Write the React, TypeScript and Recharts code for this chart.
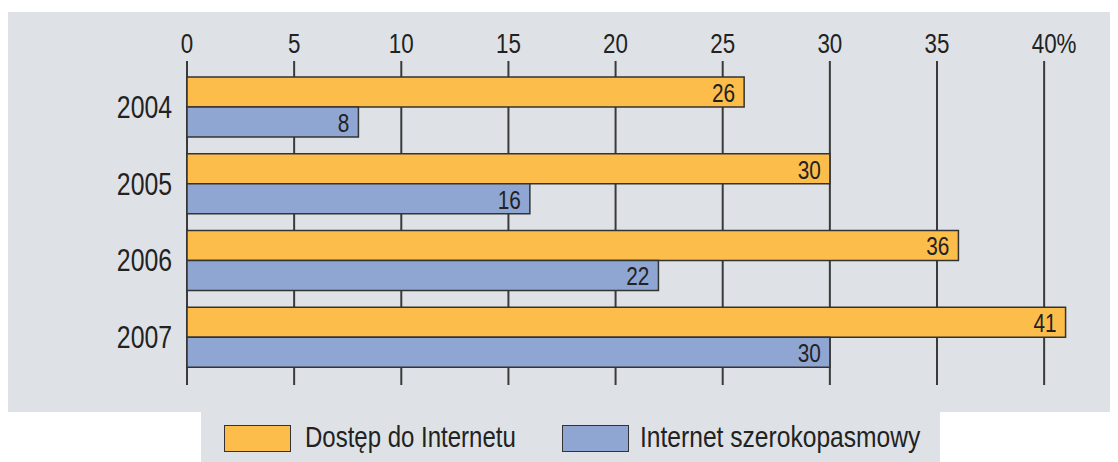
import { Bar, BarChart, CartesianGrid, LabelList, Legend, XAxis, YAxis } from "recharts";

const years = ["2004", "2005", "2006", "2007"];
const access = [26, 30, 36, 41];
const broadband = [8, 16, 22, 30];
const xTicks = [0, 5, 10, 15, 20, 25, 30, 35, 40];

const seriesNames = ["Dostęp do Internetu", "Internet szerokopasmowy"];
const colors = ["#fdbd4b", "#90a6d2"];

const data = years.map((year, i) => ({ year, access: access[i], broadband: broadband[i] }));

// no narrow font installed, so Liberation Sans gets squeezed horizontally
const FONT = "'Liberation Sans', Arial, sans-serif";
const SQUEEZE = 0.8;
const BG = "#dee2e6";
const INK = "#222";

const TopTick = (props: any) => {
    const { x, y, payload } = props;
    const v = payload.value;
    // the number stays centred on its line, the % sign on the last tick hangs to the right
    return (
        <g transform={`translate(${x},${y}) scale(${SQUEEZE},1)`}>
            <text textAnchor="middle" fill={INK} fontSize={28}>
                {String(v)}
            </text>
            {v === xTicks[xTicks.length - 1] && (
                <text x={15.6} textAnchor="start" fill={INK} fontSize={28}>
                    %
                </text>
            )}
        </g>
    );
};

const YearTick = (props: any) => {
    const { x, y, payload } = props;
    return (
        <text
            transform={`translate(${x},${y}) scale(${SQUEEZE},1)`}
            textAnchor="end"
            dominantBaseline="central"
            fill={INK}
            fontSize={31}
        >
            {payload.value}
        </text>
    );
};

const BarValue = (props: any) => {
    const { x, y, width, height, value } = props;
    return (
        <text
            transform={`translate(${x + width - 9},${y + height / 2 + 1}) scale(${SQUEEZE},1)`}
            textAnchor="end"
            dominantBaseline="central"
            fill={INK}
            fontSize={26}
        >
            {value}
        </text>
    );
};

const legendPos = [
    { swatch: 23, text: 104 },
    { swatch: 361, text: 439 },
];

const LegendBox = () => (
    <div style={{ position: "relative", width: 739, height: 50, background: BG, fontFamily: FONT, fontSize: 30, color: INK }}>
        {seriesNames.map((name, i) => (
            <div key={name}>
                <span
                    style={{
                        position: "absolute",
                        left: legendPos[i].swatch,
                        top: 13,
                        width: 65,
                        height: 25,
                        background: colors[i],
                        border: "1.5px solid #333",
                    }}
                />
                <span
                    style={{
                        position: "absolute",
                        left: legendPos[i].text,
                        top: 8,
                        lineHeight: "34px",
                        whiteSpace: "nowrap",
                        transform: `scaleX(${i === 0 ? SQUEEZE : 0.82})`,
                        transformOrigin: "left center",
                    }}
                >
                    {name}
                </span>
            </div>
        ))}
    </div>
);

const gridAtTicks = (p: any) => {
    const scale = p.xAxis.scale;
    return xTicks.map((t) => (typeof scale === "function" ? scale(t) : scale.map(t)));
};

export default function App() {
    return (
        <div style={{ position: "relative", width: 1110, height: 454, fontFamily: FONT }}>
            <div style={{ position: "absolute", left: 0, top: 4, width: 1110, height: 400, background: BG }} />
            <div style={{ position: "absolute", left: 0, top: 4 }}>
                <BarChart
                    width={1110}
                    height={450}
                    data={data}
                    layout="vertical"
                    margin={{ top: 0, right: 31, bottom: 27, left: 0 }}
                    barCategoryGap={8}
                    barGap={0}
                >
                    <CartesianGrid
                        horizontal={false}
                        stroke="#3a3a3a"
                        strokeWidth={2}
                        verticalCoordinatesGenerator={gridAtTicks}
                    />
                    <XAxis
                        type="number"
                        orientation="top"
                        domain={[0, 42]}
                        ticks={xTicks}
                        axisLine={false}
                        tickLine={false}
                        tickSize={0}
                        tickMargin={8}
                        height={49}
                        tick={<TopTick />}
                        interval={0}
                    />
                    <YAxis
                        type="category"
                        dataKey="year"
                        width={179}
                        axisLine={false}
                        tickLine={false}
                        tickSize={0}
                        tickMargin={15}
                        padding={{ top: 8, bottom: 9 }}
                        tick={<YearTick />}
                    />
                    <Legend
                        content={() => <LegendBox />}
                        wrapperStyle={{ position: "absolute", left: 193, top: 400, width: 739, height: 50 }}
                    />
                    <Bar dataKey="access" name={seriesNames[0]} fill={colors[0]} stroke="#333" strokeWidth={1.5} isAnimationActive={false}>
                        <LabelList dataKey="access" content={<BarValue />} />
                    </Bar>
                    <Bar dataKey="broadband" name={seriesNames[1]} fill={colors[1]} stroke="#333" strokeWidth={1.5} isAnimationActive={false}>
                        <LabelList dataKey="broadband" content={<BarValue />} />
                    </Bar>
                </BarChart>
            </div>
        </div>
    );
}
